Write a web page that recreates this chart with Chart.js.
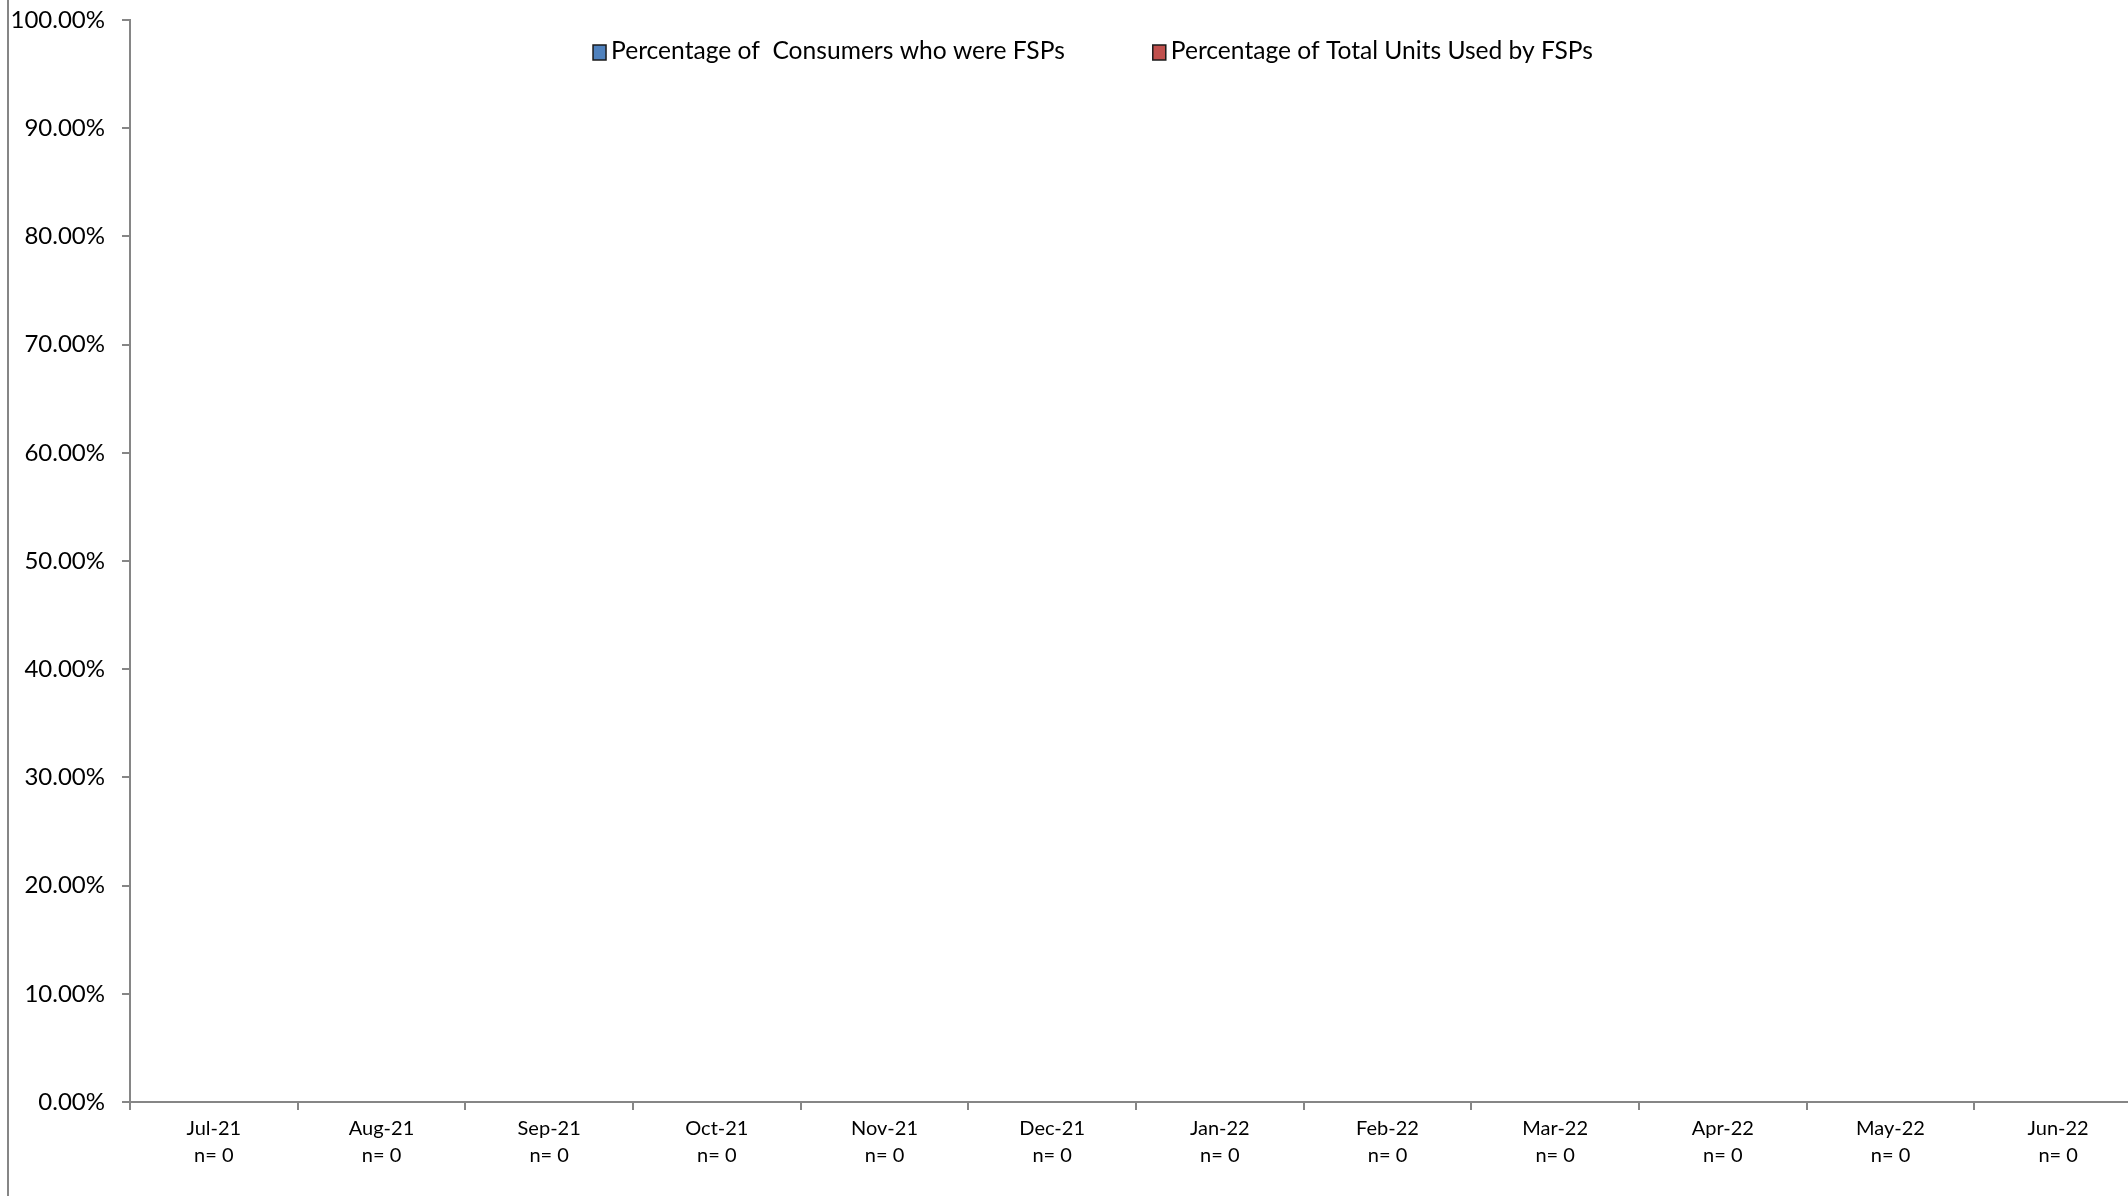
<!DOCTYPE html>
<html><head><meta charset="utf-8">
<script src="https://cdn.jsdelivr.net/npm/chart.js@4.4.0/dist/chart.umd.min.js"></script>
<style>
html,body{margin:0;padding:0;background:#fff;overflow:hidden;width:2128px;height:1196px}
#wrap{position:absolute;left:0;top:0;width:2200px;height:1196px}
#frame{position:absolute;left:7px;top:0;width:2px;height:1196px;background:#868686}
</style></head><body>
<div id="wrap"><canvas id="c" width="2200" height="1196"></canvas></div>
<div id="frame"></div>
<script>
const months = ['Jul-21','Aug-21','Sep-21','Oct-21','Nov-21','Dec-21','Jan-22','Feb-22','Mar-22','Apr-22','May-22','Jun-22'];
const sampleSizes = [0,0,0,0,0,0,0,0,0,0,0,0];
const consumersPct = [0,0,0,0,0,0,0,0,0,0,0,0];
const unitsPct = [0,0,0,0,0,0,0,0,0,0,0,0];
const seriesNames = ['Percentage of  Consumers who were FSPs','Percentage of Total Units Used by FSPs'];
const seriesColors = ['#4F81BD','#C0504D'];

const categoryLabels = months.map((m,i)=>[m,'n= '+sampleSizes[i]]);

const topLegend = {
  id:'topLegend',
  afterDraw(chart, args, opts){
    const ctx = chart.ctx;
    ctx.save();
    ctx.font = opts.font;
    const items = chart.data.datasets.map(ds => ({text: ds.label, color: ds.backgroundColor, w: ctx.measureText(ds.label).width}));
    const total = items.reduce((s,it)=> s + opts.box + opts.gap + it.w, 0) + opts.itemGap*(items.length-1);
    let x = opts.centerX - total/2;
    items.forEach(it => {
      ctx.fillStyle = it.color;
      ctx.fillRect(x, opts.boxTop, opts.box, opts.boxH);
      ctx.strokeStyle = '#1a1a1a'; ctx.lineWidth = 1.5;
      ctx.strokeRect(x, opts.boxTop, opts.box, opts.boxH);
      ctx.fillStyle = '#000'; ctx.textBaseline = 'alphabetic'; ctx.textAlign = 'left';
      ctx.fillText(it.text, x + opts.box + opts.gap, opts.baseline);
      x += opts.box + opts.gap + it.w + opts.itemGap;
    });
    ctx.restore();
  }
};

const axisGray = '#868686';
new Chart(document.getElementById('c'), {
  type:'bar',
  data:{
    labels: categoryLabels,
    datasets:[
      {label: seriesNames[0], data: consumersPct, backgroundColor: seriesColors[0], borderColor:'#1a1a1a', borderWidth:1},
      {label: seriesNames[1], data: unitsPct, backgroundColor: seriesColors[1], borderColor:'#1a1a1a', borderWidth:1}
    ]
  },
  plugins:[topLegend],
  options:{
    responsive:false, animation:false,
    layout:{padding:{left:0,right:58,top:20,bottom:22}},
    plugins:{
      legend:{display:false},
      tooltip:{enabled:false},
      topLegend:{font:'24.6px Lato', box:13, boxH:15, gap:5, itemGap:88, centerX:1093, boxTop:45, baseline:59}
    },
    scales:{
      x:{
        grid:{offset:true, drawOnChartArea:false, drawTicks:true, tickLength:8, color:axisGray, lineWidth:2},
        border:{color:axisGray, width:2},
        ticks:{font:{family:'Lato', size:20, lineHeight:1.35}, color:'#000', padding:5, maxRotation:0, autoSkip:false}
      },
      y:{
        min:0, max:100,
        grid:{drawOnChartArea:false, drawTicks:true, tickLength:8, color:axisGray, lineWidth:2},
        border:{color:axisGray, width:2},
        ticks:{stepSize:10, callback:v=>v.toFixed(2)+'%', font:{family:'Lato', size:24}, color:'#000', padding:17},
        afterFit(s){ s.width = 130; s.paddingTop = 0; s.paddingBottom = 0; }
      }
    }
  }
});
</script>
</body></html>
